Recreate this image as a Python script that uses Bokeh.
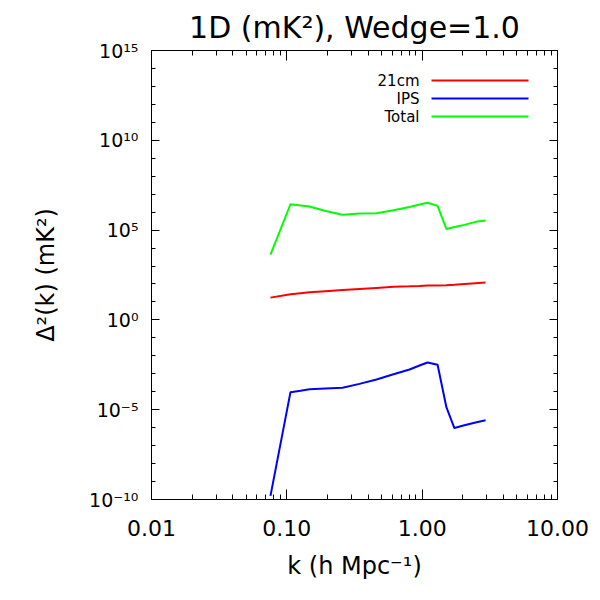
from bokeh.plotting import figure
from bokeh.models import FixedTicker, LogAxis, Label, Arrow
from bokeh.embed import file_html
from bokeh.resources import INLINE

# ---- data ----
k = [0.0757, 0.1064, 0.1262, 0.147, 0.193, 0.258, 0.344, 0.460, 0.614, 0.806,
     0.956, 1.095, 1.30, 1.51, 1.73, 2.05, 2.48, 2.94]
p21cm = [17.4, 26.9, 30.9, 34.7, 39.8, 45.7, 52.5, 60.3, 69.2, 74.1,
         77.6, 81.3, 83.2, 85.1, 91.2, 100.0, 110.0, 120.0]
ips = [1.6e-10, 9.5e-5, 1.15e-4, 1.38e-4, 1.51e-4, 1.66e-4, 2.75e-4, 4.8e-4, 9.5e-4, 1.74e-3,
       2.88e-3, 4.27e-3, 3.16e-3, 1.38e-5, 9.5e-7, 1.35e-6, 1.95e-6, 2.57e-6]
total = [4.3e3, 2.75e6, 2.34e6, 2.04e6, 1.15e6, 7.1e5, 8.3e5, 8.7e5, 1.26e6, 1.95e6,
         2.63e6, 3.31e6, 2.24e6, 1.15e5, 1.48e5, 1.95e5, 2.88e5, 3.39e5]

series_names = ["21cm", "IPS", "Total"]
series_colors = ["#ff0000", "#0000ff", "#00ff00"]

title_text = "1D (mK²), Wedge=1.0"
x_ticks = [0.01, 0.1, 1.0, 10.0]
x_tick_labels = ["0.01", "0.10", "1.00", "10.00"]
x_minor = [m * d for d in (0.01, 0.1, 1.0) for m in range(2, 10)]
y_ticks = [1e-10, 1e-5, 1.0, 1e5, 1e10, 1e15]
y_tick_labels = ["10⁻¹⁰", "10⁻⁵", "10⁰", "10⁵", "10¹⁰", "10¹⁵"]
y_minor = [10.0 ** e for e in range(-10, 16)]

FONT = "DejaVu Sans"

p = figure(frame_width=406, frame_height=449,
           min_border_left=151, min_border_right=43,
           min_border_top=50, min_border_bottom=101,
           x_axis_type="log", y_axis_type="log",
           x_range=(0.01, 10.0), y_range=(1e-10, 1e15),
           output_backend="svg", toolbar_location=None,
           title=title_text)
p.background_fill_color = "white"
p.border_fill_color = "white"
p.outline_line_color = "black"
p.outline_line_width = 1
p.grid.visible = False

p.title.align = "center"
p.title.text_font = FONT
p.title.text_font_size = "30px"
p.title.text_font_style = "normal"
p.title.text_color = "black"
p.title.standoff = 11

xt = FixedTicker(ticks=x_ticks, minor_ticks=x_minor)
yt = FixedTicker(ticks=y_ticks, minor_ticks=y_minor)


def style_axis(ax, major_in, minor_in):
    ax.axis_line_color = "black"
    ax.major_tick_line_color = "black"
    ax.minor_tick_line_color = "black"
    ax.major_tick_out = 0
    ax.minor_tick_out = 0
    ax.major_tick_in = major_in
    ax.minor_tick_in = minor_in
    ax.major_label_text_color = "black"
    ax.axis_label_text_color = "black"


xa = p.xaxis[0]
xa.ticker = xt
xa.major_label_overrides = dict(zip(x_ticks, x_tick_labels))
style_axis(xa, 10, 5)
xa.major_label_text_font = FONT
xa.major_label_text_font_size = "22px"
xa.major_label_standoff = 20
xa.axis_label = "k (h Mpc⁻¹)"
xa.axis_label_text_font = FONT
xa.axis_label_text_font_size = "24px"
xa.axis_label_text_font_style = "normal"
xa.axis_label_standoff = 13

ya = p.yaxis[0]
ya.ticker = yt
ya.major_label_overrides = dict(zip(y_ticks, y_tick_labels))
style_axis(ya, 8, 4)
ya.major_label_text_font = FONT
ya.major_label_text_font_size = "19px"
ya.major_label_standoff = 13
ya.axis_label = "Δ²(k) (mK²)"
ya.axis_label_text_font = FONT
ya.axis_label_text_font_size = "24px"
ya.axis_label_text_font_style = "normal"
ya.axis_label_standoff = 26

# mirrored tick marks on the top and right sides (no labels)
top = LogAxis(ticker=xt, major_label_overrides={t: "" for t in x_ticks},
              major_label_standoff=0, major_label_text_font_size="0px")
style_axis(top, 10, 5)
p.add_layout(top, "above")
right = LogAxis(ticker=yt, major_label_overrides={t: "" for t in y_ticks},
                major_label_standoff=0, major_label_text_font_size="0px")
style_axis(right, 8, 4)
p.add_layout(right, "right")

for vals, color in zip([p21cm, ips, total], series_colors):
    p.line(k, vals, line_color=color, line_width=2)

# legend: label text to the left of a short line (screen units are frame-relative, y up)
for i, (name, color) in enumerate(zip(series_names, series_colors)):
    ys = 419 - 18 * i
    p.add_layout(Label(x=268, y=ys, x_units="screen", y_units="screen",
                       text=name, text_align="right", text_baseline="middle",
                       text_font=FONT, text_font_size="15px", text_color="black"))
    p.add_layout(Arrow(start=None, end=None, x_start=280, x_end=377,
                       y_start=ys, y_end=ys, start_units="screen", end_units="screen",
                       line_color=color, line_width=2))

open("out.html", "w").write(file_html(p, INLINE))
